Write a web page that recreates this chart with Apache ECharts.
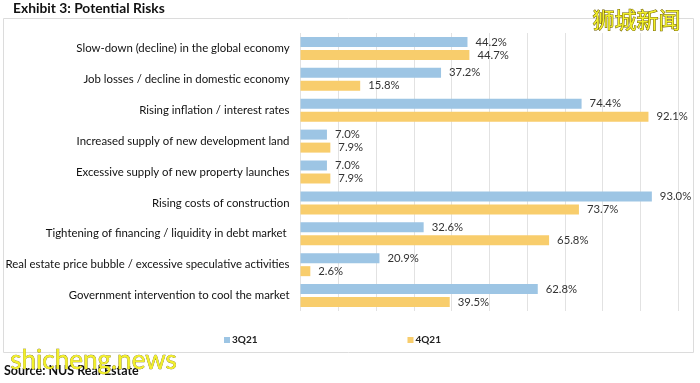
<!DOCTYPE html>
<html><head><meta charset="utf-8">
<script src="https://cdn.jsdelivr.net/npm/echarts@6/dist/echarts.min.js"></script>
<style>html,body{margin:0;padding:0;background:#fff;}#c{width:700px;height:383px;}</style>
</head><body><div id="c"></div>
<script>
const categories = [
  "Slow-down (decline) in the global economy",
  "Job losses / decline in domestic economy",
  "Rising inflation / interest rates",
  "Increased supply of new development land",
  "Excessive supply of new property launches",
  "Rising costs of construction",
  "Tightening of financing / liquidity in debt market ",
  "Real estate price bubble / excessive speculative activities",
  "Government intervention to cool the market"
];
const seriesNames = ["3Q21", "4Q21"];
const values3Q21 = [44.2, 37.2, 74.4, 7.0, 7.0, 93.0, 32.6, 20.9, 62.8];
const values4Q21 = [44.7, 15.8, 92.1, 7.9, 7.9, 73.7, 65.8, 2.6, 39.5];
const titleText = "Exhibit 3: Potential Risks";
const sourceText = "Source: NUS Real Estate";

const chart = echarts.init(document.getElementById('c'));
const font = "Lato, 'Open Sans', sans-serif";
const labelCfg = {show: true, position: 'right', distance: 8, color: '#333', fontSize: 11.3, fontFamily: font,
  formatter: p => p.value.toFixed(1) + '%'};
chart.setOption({
  animation: false,
  backgroundColor: '#fff',
  graphic: [
    {type: 'rect', shape: {x: 3.5, y: 18.5, width: 690, height: 334}, style: {fill: '#fff', stroke: '#dcdcdc', lineWidth: 1}, z: -10},
    {type: 'text', left: 13, top: 2, style: {text: titleText, font: "bold 13.8px " + font, fill: '#111'}},
    {type: 'text', left: 4, top: 364, style: {text: sourceText, font: "bold 12.5px " + font, fill: '#111'}},
    {type: 'text', left: 592, top: 8, style: {text: '狮城新闻', font: "22px 'Noto Sans CJK SC'", fill: '#f2f02a', stroke: '#6b5a00', lineWidth: 1}, z: 100},
    {type: 'text', left: 10, top: 347, style: {text: 'shicheng.news', font: "26px " + font, fill: '#f2f02a', stroke: '#7a6a10', lineWidth: 0.6}, z: 100}
  ],
  legend: {
    data: seriesNames, top: 330, left: 219, itemGap: 150, itemWidth: 6, itemHeight: 6, icon: 'rect',
    textStyle: {fontSize: 10, fontWeight: 'bold', fontFamily: font, color: '#222', padding: [0, 0, 0, -3]}
  },
  grid: {left: 300.5, right: 21.7, top: 33, bottom: 72, containLabel: false},
  xAxis: {
    type: 'value', min: 0, max: 100, interval: 10,
    axisLabel: {show: false}, axisLine: {show: false}, axisTick: {show: false},
    splitLine: {show: true, lineStyle: {color: '#e2e2e2', width: 1}}
  },
  yAxis: {
    type: 'category', data: categories, inverse: true,
    axisLine: {show: false}, axisTick: {show: false},
    axisLabel: {fontSize: 11.4, fontFamily: font, color: '#111', margin: 11}
  },
  series: [
    {name: seriesNames[0], type: 'bar', data: values3Q21, barWidth: 10, barGap: '30%',
     itemStyle: {color: '#9dc5e4'}, label: labelCfg},
    {name: seriesNames[1], type: 'bar', data: values4Q21, barWidth: 10,
     itemStyle: {color: '#f8cd6c'}, label: labelCfg}
  ]
});
</script></body></html>
